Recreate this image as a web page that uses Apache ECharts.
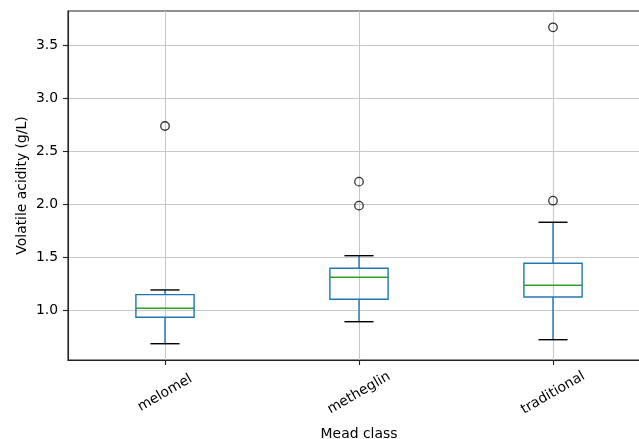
<!DOCTYPE html>
<html>
<head>
<meta charset="utf-8">
<script src="https://cdn.jsdelivr.net/npm/echarts@6/dist/echarts.min.js"></script>
<style>html,body{margin:0;padding:0;background:#fff;overflow:hidden}#c{width:639px;height:439px}</style>
</head>
<body>
<div id="c"></div>
<script>
const categories = ['melomel', 'metheglin', 'traditional'];
const lowerWhisker = [0.681, 0.889, 0.719];
const q1 = [0.931, 1.101, 1.123];
const median = [1.016, 1.309, 1.233];
const q3 = [1.145, 1.394, 1.441];
const upperWhisker = [1.189, 1.513, 1.829];
const outliers = [[2.739], [2.213, 1.986], [3.672, 2.033]];
const yTicks = [1.0, 1.5, 2.0, 2.5, 3.0, 3.5];

// category axis with spacer slots so each class sits at an odd index
const axisData = [''];
categories.forEach(c => { axisData.push(c); axisData.push(''); });
const boxData = categories.map((c, i) => [2 * i + 1, lowerWhisker[i], q1[i], median[i], q3[i], upperWhisker[i]]);
const outlierData = [];
outliers.forEach((arr, i) => arr.forEach(v => outlierData.push([2 * i + 1, v])));

const FONT = 'DejaVu Sans';
const BLUE = '#1f77b4', GREEN = '#2ca02c', CAP = '#000000';
const chart = echarts.init(document.getElementById('c'));
chart.setOption({
  animation: false,
  backgroundColor: '#ffffff',
  grid: { left: 68, right: -11, top: 11, bottom: 79, outerBoundsMode: 'none', containLabel: false, show: true, borderColor: '#222', borderWidth: 1.1, backgroundColor: 'transparent' },
  xAxis: {
    type: 'category', data: axisData, boundaryGap: false,
    name: 'Mead class', nameLocation: 'middle', nameGap: 74, nameMoveOverlap: false,
    nameTextStyle: { fontFamily: FONT, fontSize: 13.9, color: '#000', verticalAlign: 'middle' },
    axisLine: { lineStyle: { color: '#222', width: 1.1 } },
    axisTick: { show: true, length: 5, interval: (i) => i % 2 === 1, lineStyle: { color: '#222', width: 1.1 } },
    axisLabel: { interval: (i) => i % 2 === 1, rotate: 30, margin: 33, align: 'center', verticalAlign: 'middle', fontFamily: FONT, fontSize: 13.9, color: '#000' },
    splitLine: { show: true, interval: (i) => i % 2 === 1, lineStyle: { color: '#c8c8c8', width: 1.1 } }
  },
  yAxis: {
    type: 'value', min: 0.527, max: 3.826,
    name: 'Volatile acidity (g/L)', nameLocation: 'middle', nameGap: 46, nameRotate: 90, nameMoveOverlap: false,
    nameTextStyle: { fontFamily: FONT, fontSize: 13.9, color: '#000', verticalAlign: 'middle' },
    axisLine: { show: true, lineStyle: { color: '#222', width: 1.1 } },
    axisTick: { show: true, length: 5, customValues: yTicks, lineStyle: { color: '#222', width: 1.1 } },
    axisLabel: { customValues: yTicks, margin: 10, formatter: v => Number(v).toFixed(1), fontFamily: FONT, fontSize: 13.9, color: '#000' },
    splitLine: { show: true, lineStyle: { color: '#c8c8c8', width: 1.1 } }
  },
  series: [
    {
      type: 'custom',
      data: boxData,
      encode: { x: 0, y: [1, 2, 3, 4, 5] },
      clip: false,
      z: 3,
      renderItem: function (params, api) {
        const x = api.value(0);
        const pLow = api.coord([x, api.value(1)]);
        const pQ1 = api.coord([x, api.value(2)]);
        const pMed = api.coord([x, api.value(3)]);
        const pQ3 = api.coord([x, api.value(4)]);
        const pHigh = api.coord([x, api.value(5)]);
        const cx = pMed[0];
        const step = api.coord([x + 1, api.value(3)])[0] - cx;
        const bw = step * 0.6, cw = step * 0.3;
        const lw = 1.4;
        return {
          type: 'group',
          children: [
            { type: 'line', shape: { x1: cx, y1: pLow[1], x2: cx, y2: pQ1[1] }, style: { stroke: BLUE, lineWidth: lw } },
            { type: 'line', shape: { x1: cx, y1: pQ3[1], x2: cx, y2: pHigh[1] }, style: { stroke: BLUE, lineWidth: lw } },
            { type: 'line', shape: { x1: cx - cw / 2, y1: pLow[1], x2: cx + cw / 2, y2: pLow[1] }, style: { stroke: CAP, lineWidth: lw } },
            { type: 'line', shape: { x1: cx - cw / 2, y1: pHigh[1], x2: cx + cw / 2, y2: pHigh[1] }, style: { stroke: CAP, lineWidth: lw } },
            { type: 'rect', shape: { x: cx - bw / 2, y: pQ3[1], width: bw, height: pQ1[1] - pQ3[1] }, style: { stroke: BLUE, fill: 'none', lineWidth: lw } },
            { type: 'line', shape: { x1: cx - bw / 2, y1: pMed[1], x2: cx + bw / 2, y2: pMed[1] }, style: { stroke: GREEN, lineWidth: lw } }
          ]
        };
      }
    },
    {
      type: 'scatter',
      data: outlierData,
      symbol: 'circle',
      symbolSize: 8.5,
      z: 4,
      itemStyle: { color: 'rgba(0,0,0,0)', borderColor: '#000', borderWidth: 1.3 }
    }
  ]
});
</script>
</body>
</html>
